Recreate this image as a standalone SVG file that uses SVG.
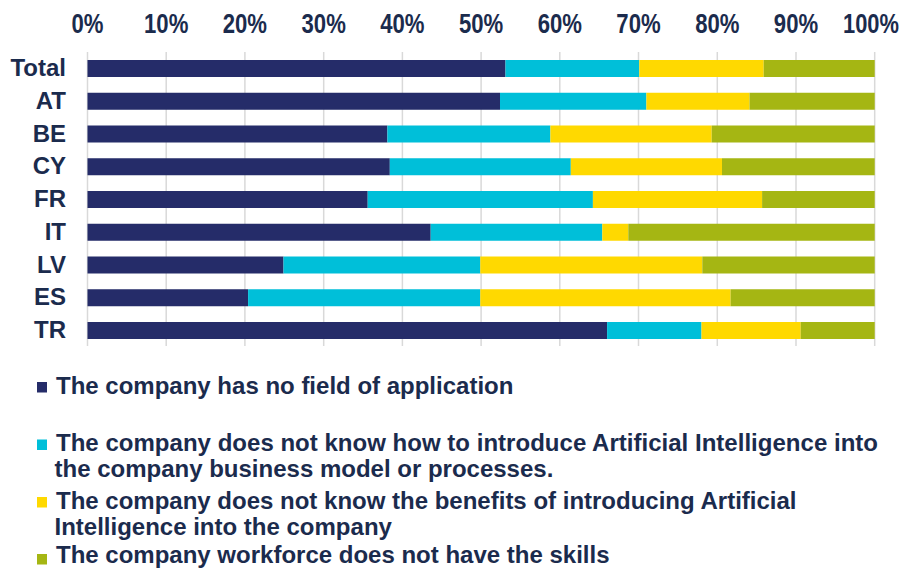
<svg xmlns="http://www.w3.org/2000/svg" width="904" height="571" viewBox="0 0 904 571">
<style>
text{font-family:"Liberation Sans",Arial,sans-serif;font-weight:bold;fill:#1B2B4D}
.ax{font-size:27px;text-anchor:middle}
.cat{font-size:24px;text-anchor:end}
.lg{font-size:24px}
.grid line{stroke:#D9D9D9;stroke-width:1.5}
.s1{fill:#252C69}.s2{fill:#00BFD9}.s3{fill:#FFD900}.s4{fill:#A5B613}
</style>
<rect width="904" height="571" fill="#fff"/>
<g id="axis-labels">
<text class="ax" transform="translate(87.5,33) scale(0.82,1)">0%</text>
<text class="ax" transform="translate(166.2,33) scale(0.82,1)">10%</text>
<text class="ax" transform="translate(244.9,33) scale(0.82,1)">20%</text>
<text class="ax" transform="translate(323.7,33) scale(0.82,1)">30%</text>
<text class="ax" transform="translate(402.4,33) scale(0.82,1)">40%</text>
<text class="ax" transform="translate(481.1,33) scale(0.82,1)">50%</text>
<text class="ax" transform="translate(559.8,33) scale(0.82,1)">60%</text>
<text class="ax" transform="translate(638.5,33) scale(0.82,1)">70%</text>
<text class="ax" transform="translate(717.3,33) scale(0.82,1)">80%</text>
<text class="ax" transform="translate(796,33) scale(0.82,1)">90%</text>
<text class="ax" transform="translate(871,33) scale(0.81,1)">100%</text>
</g>
<g id="gridlines" class="grid">
<line x1="87.5" y1="52" x2="87.5" y2="346"/>
<line x1="166.2" y1="52" x2="166.2" y2="346"/>
<line x1="244.9" y1="52" x2="244.9" y2="346"/>
<line x1="323.7" y1="52" x2="323.7" y2="346"/>
<line x1="402.4" y1="52" x2="402.4" y2="346"/>
<line x1="481.1" y1="52" x2="481.1" y2="346"/>
<line x1="559.8" y1="52" x2="559.8" y2="346"/>
<line x1="638.5" y1="52" x2="638.5" y2="346"/>
<line x1="717.3" y1="52" x2="717.3" y2="346"/>
<line x1="796" y1="52" x2="796" y2="346"/>
<line x1="874.7" y1="52" x2="874.7" y2="346"/>
</g>
<g id="row-Total">
<text class="cat" x="66" y="76">Total</text>
<rect class="s1" x="87.5" y="60" width="418" height="17"/>
<rect class="s2" x="505.5" y="60" width="133.8" height="17"/>
<rect class="s3" x="639.3" y="60" width="124.4" height="17"/>
<rect class="s4" x="763.7" y="60" width="111" height="17"/>
</g>
<g id="row-AT">
<text class="cat" x="66" y="108.75">AT</text>
<rect class="s1" x="87.5" y="92.75" width="412.5" height="17"/>
<rect class="s2" x="500" y="92.75" width="146.4" height="17"/>
<rect class="s3" x="646.4" y="92.75" width="103.1" height="17"/>
<rect class="s4" x="749.5" y="92.75" width="125.2" height="17"/>
</g>
<g id="row-BE">
<text class="cat" x="66" y="141.5">BE</text>
<rect class="s1" x="87.5" y="125.5" width="299.9" height="17"/>
<rect class="s2" x="387.4" y="125.5" width="163" height="17"/>
<rect class="s3" x="550.4" y="125.5" width="161.3" height="17"/>
<rect class="s4" x="711.7" y="125.5" width="163" height="17"/>
</g>
<g id="row-CY">
<text class="cat" x="66" y="174.25">CY</text>
<rect class="s1" x="87.5" y="158.25" width="302.3" height="17"/>
<rect class="s2" x="389.8" y="158.25" width="181" height="17"/>
<rect class="s3" x="570.8" y="158.25" width="151.2" height="17"/>
<rect class="s4" x="722" y="158.25" width="152.7" height="17"/>
</g>
<g id="row-FR">
<text class="cat" x="66" y="207">FR</text>
<rect class="s1" x="87.5" y="191" width="280.2" height="17"/>
<rect class="s2" x="367.7" y="191" width="225.2" height="17"/>
<rect class="s3" x="592.9" y="191" width="169.2" height="17"/>
<rect class="s4" x="762.1" y="191" width="112.6" height="17"/>
</g>
<g id="row-IT">
<text class="cat" x="66" y="239.75">IT</text>
<rect class="s1" x="87.5" y="223.75" width="343.2" height="17"/>
<rect class="s2" x="430.7" y="223.75" width="171.6" height="17"/>
<rect class="s3" x="602.3" y="223.75" width="26" height="17"/>
<rect class="s4" x="628.3" y="223.75" width="246.4" height="17"/>
</g>
<g id="row-LV">
<text class="cat" x="66" y="272.5">LV</text>
<rect class="s1" x="87.5" y="256.5" width="196" height="17"/>
<rect class="s2" x="283.5" y="256.5" width="196.8" height="17"/>
<rect class="s3" x="480.3" y="256.5" width="222" height="17"/>
<rect class="s4" x="702.3" y="256.5" width="172.4" height="17"/>
</g>
<g id="row-ES">
<text class="cat" x="66" y="305.25">ES</text>
<rect class="s1" x="87.5" y="289.25" width="160.6" height="17"/>
<rect class="s2" x="248.1" y="289.25" width="232.2" height="17"/>
<rect class="s3" x="480.3" y="289.25" width="250.3" height="17"/>
<rect class="s4" x="730.6" y="289.25" width="144.1" height="17"/>
</g>
<g id="row-TR">
<text class="cat" x="66" y="338">TR</text>
<rect class="s1" x="87.5" y="322" width="519.6" height="17"/>
<rect class="s2" x="607.1" y="322" width="94.4" height="17"/>
<rect class="s3" x="701.5" y="322" width="99.2" height="17"/>
<rect class="s4" x="800.7" y="322" width="74" height="17"/>
</g>
<g id="legend">
<g id="legend-1">
<rect class="s1" x="37" y="382" width="10" height="10.5"/>
<text class="lg" x="56" y="394">The company has no field of application</text>
</g>
<g id="legend-2">
<rect class="s2" x="37" y="439.5" width="10" height="10.5"/>
<text class="lg" x="56" y="451" textLength="822" lengthAdjust="spacing">The company does not know how to introduce Artificial Intelligence into</text>
<text class="lg" x="54.5" y="476.5">the company business model or processes.</text>
</g>
<g id="legend-3">
<rect class="s3" x="37" y="497" width="10" height="10.5"/>
<text class="lg" x="56" y="508.5">The company does not know the benefits of introducing Artificial</text>
<text class="lg" x="54.5" y="534.5">Intelligence into the company</text>
</g>
<g id="legend-4">
<rect class="s4" x="37" y="554" width="10" height="10.5"/>
<text class="lg" x="56" y="563">The company workforce does not have the skills</text>
</g>
</g>
</svg>
